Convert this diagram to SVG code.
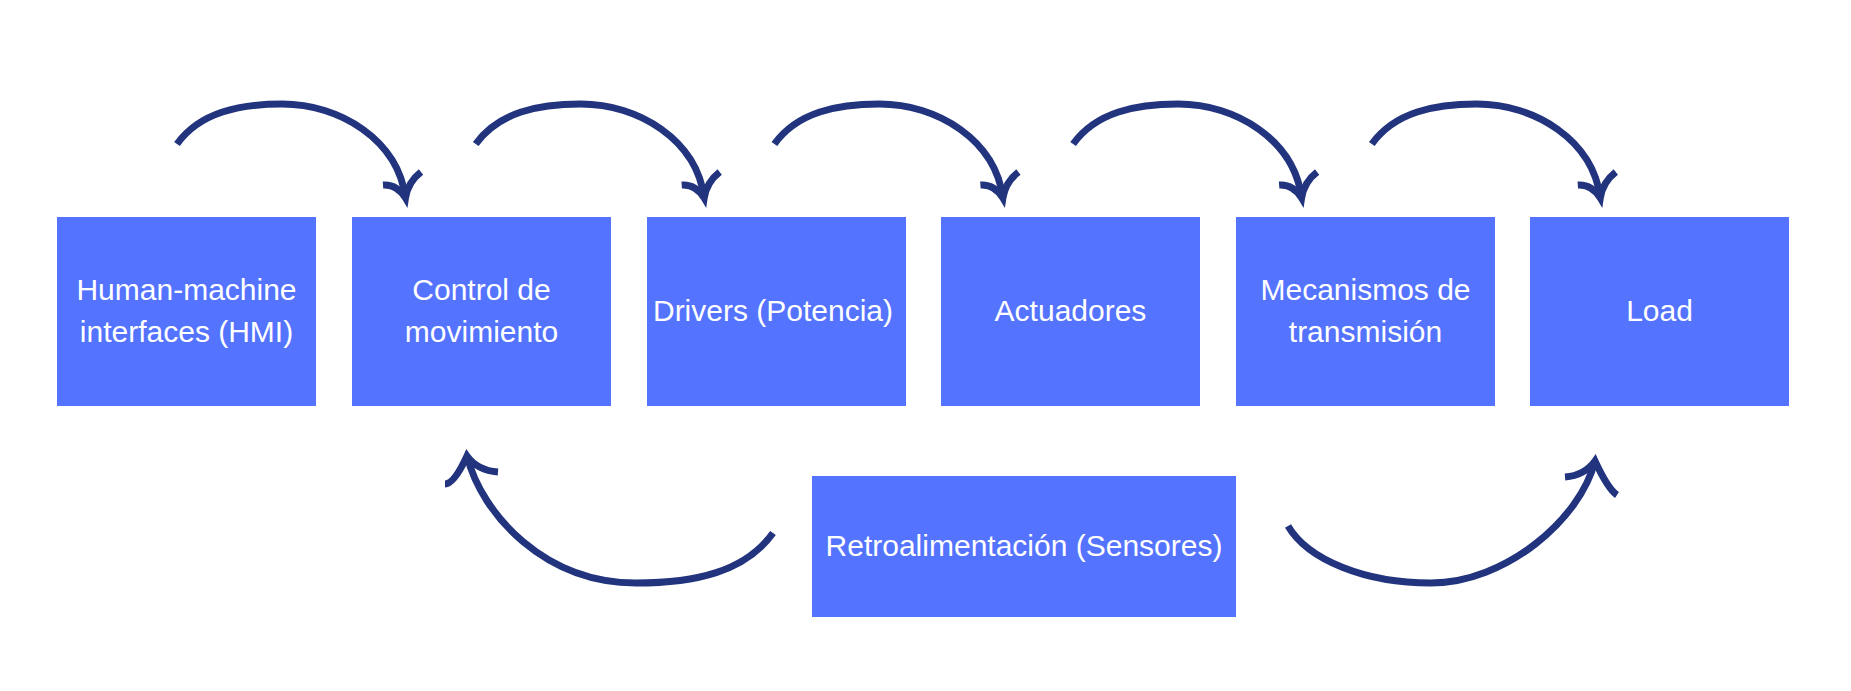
<svg xmlns="http://www.w3.org/2000/svg" xmlns:xlink="http://www.w3.org/1999/xlink" width="1851" height="691" viewBox="0 0 1851 691">
<style>
.box{fill:#5473FF;}
.lbl{font-family:"Liberation Sans",Arial,sans-serif;font-size:30px;fill:#FFFFFF;text-anchor:middle;}
.con{fill:none;stroke:#22347E;stroke-width:7;stroke-linecap:butt;stroke-linejoin:miter;}
</style>
<defs>
<g id="topArrow">
<path d="M177,144 C200,112 240,104 282,104 C340,104 398,140 405.5,198"/>
<path d="M383,185 Q397,184 405.5,198 Q408,182 421,172"/>
</g>
</defs>
<rect width="1851" height="691" fill="#FFFFFF"/>
<g id="n-hmi"><rect class="box" x="57" y="217" width="259" height="189"/><text class="lbl" x="186.5" y="300">Human-machine</text><text class="lbl" x="186.5" y="342">interfaces (HMI)</text></g>
<g id="n-control"><rect class="box" x="352" y="217" width="259" height="189"/><text class="lbl" x="481.5" y="300">Control de</text><text class="lbl" x="481.5" y="342">movimiento</text></g>
<g id="n-drivers"><rect class="box" x="647" y="217" width="259" height="189"/><text class="lbl" x="773" y="321">Drivers (Potencia)</text></g>
<g id="n-actuadores"><rect class="box" x="941" y="217" width="259" height="189"/><text class="lbl" x="1070.5" y="321">Actuadores</text></g>
<g id="n-mecanismos"><rect class="box" x="1236" y="217" width="259" height="189"/><text class="lbl" x="1365.5" y="300">Mecanismos de</text><text class="lbl" x="1365.5" y="342">transmisión</text></g>
<g id="n-load"><rect class="box" x="1530" y="217" width="259" height="189"/><text class="lbl" x="1659.5" y="321">Load</text></g>
<g id="n-retro"><rect class="box" x="812" y="476" width="424" height="141"/><text class="lbl" x="1024" y="556">Retroalimentación (Sensores)</text></g>
<g id="connectors" class="con">
<use xlink:href="#topArrow"/>
<use xlink:href="#topArrow" transform="translate(298.7,0)"/>
<use xlink:href="#topArrow" transform="translate(597.4,0)"/>
<use xlink:href="#topArrow" transform="translate(896.1,0)"/>
<use xlink:href="#topArrow" transform="translate(1194.8,0)"/>
<path d="M773,533 C745,572 695,583 636,583 C545,583 482,515 467,456"/>
<path d="M445,484 Q454,484 467,456 Q477.5,470.5 498,472"/>
<path d="M1288,526 C1308,560 1365,583 1431,583 C1505,583 1580,520 1595,461"/>
<path d="M1565,477 Q1584.5,475.5 1595,461 Q1608,489 1617,495"/>
</g>
</svg>
